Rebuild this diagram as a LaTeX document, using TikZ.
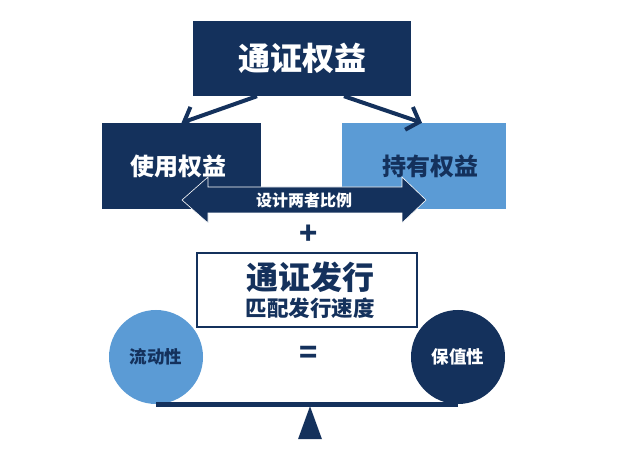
\documentclass[tikz,border=0pt]{standalone}
\usepackage{fontspec}
\setmainfont{Noto Sans CJK SC}[BoldFont={* Black}]
\usetikzlibrary{arrows.meta,calc}
\definecolor{navy}{HTML}{14315C}
\definecolor{lblue}{HTML}{5B9BD5}
\begin{document}
\begin{tikzpicture}[x=1pt,y=-1pt,
  lbl/.style={font=\bfseries\fontsize{#1}{#1}\selectfont, inner sep=0pt},
  darkbox/.style={rectangle, inner sep=0pt, fill=navy, text=white},
  lightbox/.style={rectangle, inner sep=0pt, fill=lblue, text=navy},
  conn/.style={draw=navy, line width=4pt, -{Straight Barb[length=11pt,width=24pt]}},
  ball/.style={circle, inner sep=0pt, minimum size=94pt}]
\useasboundingbox (0,0) rectangle (640,454);
% top
\node[darkbox, minimum width=218pt, minimum height=75pt, lbl=32] (top) at (302,58.5) {通证权益};
\node[darkbox, minimum width=159pt, minimum height=86pt] (use) at (181.5,166) {};
\node[lightbox, minimum width=164pt, minimum height=86pt] (hold) at (424,166) {};
\draw[conn] ([xshift=-45pt]top.south) -- ([xshift=0pt]use.north);
\draw[conn] ([xshift=42pt]top.south) -- ([xshift=-2pt]hold.north);
\node[lbl=24, text=white] (uset) at (178,166) {使用权益};
\node[lbl=24, text=navy] (holdt) at (430,166) {持有权益};
% double arrow
\coordinate (la) at (182,200);
\coordinate (ra) at (426,200);
\fill[navy, draw=white, line width=0.6pt] (la) -- (208,177) -- (208,187) -- (402,187) -- (402,177) -- (ra)
  -- (402,223) -- (402,213) -- (208,213) -- (208,223) -- cycle;
\node[lbl=16, text=white] (ratio) at ($(la)!0.5!(ra)$) {设计两者比例};
% plus
\node[lbl=30, text=navy] (plus) at (309,235) {+};
% issuance box
\node[rectangle, draw=navy, line width=2pt, fill=white, minimum width=220pt, minimum height=74pt] (issue) at (307,290) {};
\node[lbl=32, text=navy] (issue1) at (310,277) {通证发行};
\node[lbl=21.5, text=navy] (issue2) at (310,308) {匹配发行速度};
% balance
\node[ball, fill=lblue, text=navy, lbl=17.5] (liq) at (156,357) {流动性};
\node[ball, fill=navy, text=white, lbl=17.5] (val) at (458,357) {保值性};
\node[lbl=30, text=navy] (eq) at (309,355) {=};
\draw[navy, line width=5pt] (liq.south) -- (val.south);
\coordinate (apex) at ($(liq.south)!0.5!(val.south)+(3,2)$);
\fill[navy] (apex) -- ++(12,33) -- ++(-24,0) -- cycle;
\end{tikzpicture}
\end{document}
